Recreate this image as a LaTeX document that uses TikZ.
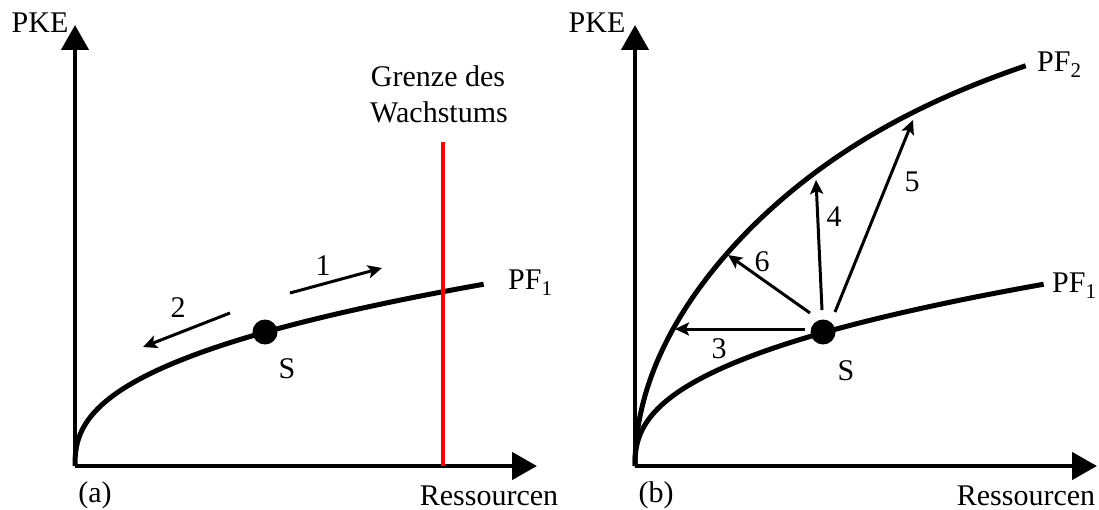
\documentclass[tikz,border=0pt]{standalone}
\usepackage{fontspec}
\setmainfont{Liberation Serif}
\usetikzlibrary{arrows.meta}
\begin{document}
\begin{tikzpicture}[x=1pt,y=-1pt,
  txt/.style={inner sep=0pt,font=\fontsize{30}{36}\selectfont},
  axis/.style={line width=4.5pt,-{Triangle[length=25pt,width=27pt]}},
  curve/.style={line width=5pt},
  move/.style={line width=3pt,-{Stealth[length=14pt,width=13pt,inset=3pt]}},
  dot/.style={circle,fill=black,inner sep=0pt,minimum size=25pt}]
\useasboundingbox (0,0) rectangle (1099,510);
% ---------- panel (a)
\coordinate (oa) at (75,466);
\coordinate (ya) at (75,25);
\coordinate (xa) at (537,466);
\draw[axis] (oa) -- (ya);
\draw[axis] (oa) -- (xa);
\draw[curve] plot[domain=0:1,samples=120,smooth] ({75+410*\x*\x*sqrt(\x)},{466-182*\x});
\coordinate (rt) at (443,142);
\coordinate (rb) at (443,466);
\draw[red,line width=3.5pt] (rt) -- (rb);
\node[txt,anchor=base] (gw1) at (438,87) {Grenze des};
\node[txt,anchor=base] (gw2) at (439,123) {Wachstums};
\node[txt,anchor=base west] (pfa) at (508,290) {PF\textsubscript{1}};
\node[txt,anchor=base] (pkea) at (40,33) {PKE};
\node[txt,anchor=base] (la) at (95,502) {(a)};
\node[txt,anchor=base] (ra) at (489,505) {Ressourcen};
\node[dot] (Sa) at (265,332) {};
\node[txt] (sla) at (287,369) {S};
\coordinate (a1s) at (290,293);
\coordinate (a1e) at (382,268);
\coordinate (a2s) at (230,313);
\coordinate (a2e) at (143,347);
\draw[move] (a1s) -- (a1e);
\draw[move] (a2s) -- (a2e);
\node[txt] (n1) at (323,266) {1};
\node[txt] (n2) at (178,308) {2};
% ---------- panel (b)
\coordinate (ob) at (635,466);
\coordinate (yb) at (635,25);
\coordinate (xb) at (1097,466);
\draw[axis] (ob) -- (yb);
\draw[axis] (ob) -- (xb);
\draw[curve] plot[domain=0:1,samples=120,smooth] ({635+410*\x*\x*sqrt(\x)},{466-182*\x});
\draw[curve] plot[domain=0:1,samples=150,smooth] ({635+393*(0.83*\x*\x+0.17*\x*\x*\x*\x*\x*\x*\x*\x)},{466-401*\x});
\node[txt,anchor=base west] (pfb1) at (1052,293) {PF\textsubscript{1}};
\node[txt,anchor=base west] (pfb2) at (1037,72) {PF\textsubscript{2}};
\node[txt,anchor=base] (pkeb) at (597,33) {PKE};
\node[txt,anchor=base] (lb) at (656,502) {(b)};
\node[txt,anchor=base] (rb2) at (1026,505) {Ressourcen};
\node[dot] (Sb) at (823,332) {};
\node[txt] (slb) at (846,371) {S};
\coordinate (b3s) at (805,329);
\coordinate (b3e) at (675,329);
\coordinate (b6s) at (810,313);
\coordinate (b6e) at (728,255);
\coordinate (b4s) at (822,310);
\coordinate (b4e) at (816,180);
\coordinate (b5s) at (835,312);
\coordinate (b5e) at (913,120);
\draw[move] (b3s) -- (b3e);
\draw[move] (b6s) -- (b6e);
\draw[move] (b4s) -- (b4e);
\draw[move] (b5s) -- (b5e);
\node[txt] (n3) at (719,349) {3};
\node[txt] (n6) at (762,262) {6};
\node[txt] (n4) at (834,217) {4};
\node[txt] (n5) at (912,182) {5};
\end{tikzpicture}
\end{document}
